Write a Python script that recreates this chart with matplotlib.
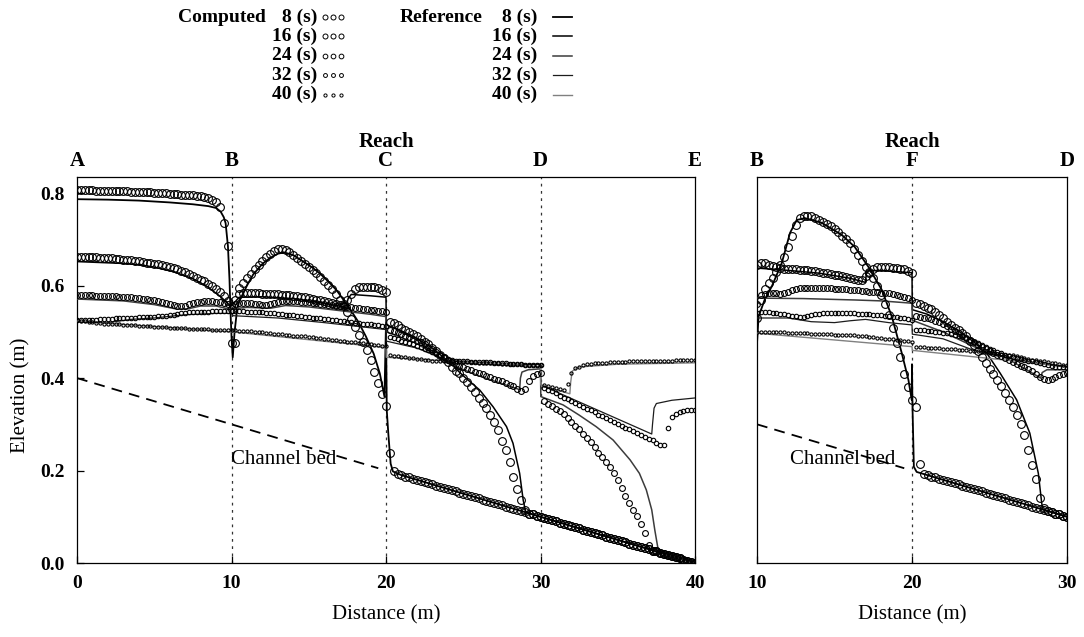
import numpy as np
import matplotlib
matplotlib.use("Agg")
import matplotlib.pyplot as plt
from matplotlib.lines import Line2D

plt.rcParams["font.family"] = ["Liberation Serif", "DejaVu Serif"]
plt.rcParams["font.size"] = 14

# ---------------------------------------------------------------- data
times = ["8", "16", "24", "32", "40"]

# computed nodes, dx = 0.25 m
dist_main = np.linspace(0, 40, 161)     # reaches A-B, B-C, C-D, D-E
dist_branch = np.linspace(10, 30, 81)   # reaches B-F, F-D

# computed water surface elevation (mm), main channel A-B-C-D-E
main_08 = [
    806, 806, 806, 806, 806, 805, 805, 805, 805, 805, 804, 804, 804, 804, 803, 803, 803, 802, 802, 802,
    801, 801, 800, 800, 799, 799, 798, 797, 797, 796, 795, 794, 793, 791, 789, 786, 781, 770, 735, 685, 476,
    476, 595, 606, 616, 626, 636, 645, 654, 662, 669, 675, 679, 680, 678, 673, 666, 660, 653, 647, 640,
    634, 627, 619, 611, 602, 593, 582, 570, 557, 542, 527, 511, 494, 478, 460, 440, 414, 390, 365, 340,
    237, 200, 192, 190, 187, 185, 182, 180, 177, 175, 172, 170, 167, 165, 162, 160, 157, 155, 152, 150,
    147, 145, 142, 140, 137, 135, 132, 130, 127, 125, 122, 120, 117, 115, 112, 110, 107, 105, 102, 100,
    97, 95, 92, 90, 87, 85, 82, 80, 77, 75, 72, 70, 67, 65, 62, 60, 57, 55, 52, 50,
    47, 45, 42, 40, 37, 35, 32, 30, 27, 25, 22, 20, 17, 15, 12, 10, 7, 5, 2, 0,
]
main_16 = [
    662, 662, 662, 661, 661, 661, 660, 660, 659, 659, 658, 657, 656, 656, 655, 654, 653, 652, 650, 649,
    647, 646, 644, 642, 640, 638, 635, 632, 629, 625, 621, 617, 613, 609, 604, 599, 593, 587, 578, 567, 550,
    570, 582, 583, 583, 583, 583, 583, 582, 582, 582, 581, 581, 580, 580, 579, 578, 577, 576, 575, 573,
    572, 570, 569, 567, 565, 563, 561, 559, 560, 568, 582, 592, 597, 598, 598, 597, 596, 594, 591, 586,
    522, 520, 515, 509, 504, 500, 496, 490, 485, 479, 473, 466, 459, 451, 443, 435, 424, 416, 410, 401,
    391, 381, 370, 358, 346, 335, 320, 304, 288, 264, 245, 219, 185, 160, 136, 114, 107, 105, 102, 100,
    97, 95, 92, 90, 87, 85, 82, 80, 77, 75, 72, 70, 67, 65, 62, 60, 57, 55, 52, 50,
    47, 45, 42, 40, 37, 35, 32, 30, 27, 25, 22, 20, 17, 15, 12, 10, 7, 5, 2, 0,
]
main_24 = [
    579, 579, 579, 579, 579, 578, 578, 578, 577, 577, 577, 576, 576, 575, 575, 574, 573, 572, 571, 570,
    568, 567, 565, 563, 561, 558, 556, 555, 557, 560, 562, 564, 565, 566, 566, 566, 565, 564, 563, 561, 558,
    560, 562, 563, 563, 562, 561, 560, 559, 558, 560, 563, 565, 566, 567, 567, 566, 566, 565, 565, 564,
    563, 562, 561, 560, 559, 558, 557, 556, 555, 554, 553, 552, 551, 550, 549, 548, 547, 546, 545, 543,
    505, 502, 499, 496, 492, 489, 485, 481, 477, 473, 468, 463, 457, 451, 445, 439, 434, 430, 426, 423,
    420, 417, 414, 411, 408, 405, 402, 399, 396, 393, 389, 386, 382, 377, 371, 376, 394, 404, 409, 412,
    350, 345, 339, 334, 328, 322, 314, 306, 297, 289, 280, 271, 261, 250, 239, 229, 218, 207, 194, 179,
    163, 146, 130, 115, 102, 84, 64, 40, 27, 25, 22, 20, 17, 15, 12, 10, 7, 5, 2, 0,
]
main_32 = [
    525, 525, 525, 525, 526, 526, 527, 527, 528, 528, 529, 529, 530, 530, 531, 531, 532, 532, 533, 533,
    533, 534, 534, 535, 536, 537, 538, 540, 541, 542, 543, 543, 544, 544, 544, 545, 545, 545, 545, 545, 545,
    545, 545, 545, 544, 544, 543, 543, 542, 541, 540, 540, 539, 538, 537, 537, 536, 535, 534, 533, 532,
    531, 530, 529, 528, 527, 526, 525, 524, 523, 522, 521, 520, 519, 518, 517, 516, 515, 514, 513, 512,
    488, 486, 484, 481, 478, 476, 473, 470, 467, 464, 461, 457, 453, 449, 445, 441, 439, 437, 436, 436,
    436, 435, 435, 435, 434, 434, 434, 433, 433, 432, 432, 431, 431, 430, 430, 429, 429, 428, 428, 428,
    379, 375, 371, 367, 362, 358, 354, 350, 346, 342, 338, 334, 330, 326, 321, 317, 313, 309, 305, 301,
    297, 293, 289, 285, 281, 277, 273, 269, 265, 260, 255, 256, 292, 316, 323, 327, 328, 330, 331, 331,
]
main_40 = [
    525, 524, 523, 522, 521, 520, 519, 518, 517, 517, 516, 516, 515, 515, 514, 514, 513, 513, 512, 512,
    511, 511, 510, 510, 509, 509, 509, 508, 508, 507, 507, 507, 506, 506, 506, 505, 505, 504, 504, 503, 503,
    503, 502, 502, 501, 501, 500, 499, 499, 498, 497, 496, 496, 495, 494, 493, 492, 491, 490, 490, 489,
    488, 487, 486, 485, 484, 483, 482, 481, 480, 479, 478, 477, 476, 475, 474, 473, 472, 471, 470, 469,
    449, 448, 447, 446, 445, 444, 443, 442, 441, 440, 439, 438, 438, 437, 437, 436, 436, 435, 435, 435,
    434, 434, 434, 433, 433, 433, 432, 432, 432, 431, 431, 431, 430, 430, 430, 429, 429, 429, 428, 428,
    384, 382, 380, 378, 376, 374, 388, 410, 421, 425, 428, 430, 431, 432, 432, 433, 433, 434, 434, 435,
    435, 435, 436, 436, 436, 437, 437, 437, 437, 438, 438, 438, 438, 438, 439, 439, 439, 439, 439, 439,
]

# computed water surface elevation (mm), branch B-F-D
branch_08 = [
    530, 568, 592, 605, 617, 630, 645, 662, 684, 708, 731, 746, 751, 751, 750, 746, 742, 738, 733, 728,
    722, 715, 708, 701, 692, 680, 667, 653, 640, 628, 616, 600, 580, 560, 537, 508, 476, 446, 408, 380, 352,
    338, 215, 193, 190, 187, 185, 182, 180, 177, 175, 172, 170, 167, 165, 162, 160, 157, 155, 152, 150,
    147, 145, 142, 140, 137, 135, 132, 130, 127, 125, 122, 120, 117, 115, 112, 110, 107, 105, 102, 100,
]
branch_16 = [
    645, 649, 648, 645, 642, 640, 638, 637, 636, 635, 635, 634, 634, 633, 632, 631, 629, 628, 627, 626,
    624, 623, 621, 619, 617, 615, 613, 612, 620, 630, 637, 640, 641, 641, 640, 639, 638, 637, 635, 632, 628,
    562, 560, 556, 552, 549, 544, 537, 530, 522, 515, 508, 503, 497, 490, 481, 471, 459, 445, 432, 420,
    408, 396, 382, 368, 353, 338, 320, 300, 276, 245, 212, 182, 140, 118, 112, 110, 107, 105, 102, 100,
]
branch_24 = [
    560, 580, 582, 583, 584, 583, 582, 584, 587, 590, 592, 594, 595, 595, 595, 595, 595, 595, 594, 594,
    593, 593, 592, 592, 591, 591, 590, 589, 588, 587, 587, 586, 585, 584, 583, 582, 580, 578, 576, 573, 569,
    535, 533, 531, 529, 527, 524, 521, 516, 512, 507, 502, 497, 492, 487, 482, 477, 472, 467, 463, 459,
    455, 451, 447, 443, 439, 435, 431, 427, 423, 419, 415, 409, 403, 398, 396, 399, 403, 407, 409, 410,
]
branch_32 = [
    540, 544, 543, 542, 541, 540, 539, 538, 536, 535, 534, 533, 533, 534, 536, 538, 539, 540, 540, 540,
    540, 540, 540, 540, 540, 540, 539, 539, 538, 538, 537, 536, 536, 535, 534, 533, 532, 531, 529, 527, 525,
    505, 504, 503, 502, 501, 500, 499, 498, 497, 496, 494, 492, 490, 487, 483, 479, 475, 471, 467, 463,
    460, 457, 454, 451, 448, 446, 444, 442, 440, 438, 436, 434, 432, 430, 428, 426, 425, 424, 423, 422,
]
branch_40 = [
    500, 500, 500, 500, 499, 499, 499, 499, 498, 498, 498, 497, 497, 497, 496, 496, 496, 495, 495, 495,
    494, 494, 494, 493, 493, 493, 492, 491, 490, 489, 488, 487, 486, 485, 484, 484, 483, 482, 481, 480, 479,
    468, 467, 467, 466, 466, 465, 465, 464, 463, 463, 462, 461, 461, 460, 459, 458, 458, 457, 456, 455,
    454, 453, 452, 451, 450, 449, 447, 446, 444, 442, 440, 439, 437, 436, 434, 433, 432, 431, 429, 428,
]

# reference solution (m), main channel
ref_main_08_x = [0, 2, 4, 6, 7.5, 8.5, 9, 9.3, 9.5, 9.62, 9.77, 9.87, 9.94, 10.0, 10.08, 10.2, 10.35, 10.5,
                 11, 11.4, 12, 12.5, 13, 13.4, 14, 14.6, 15.2, 15.7, 16.3, 16.8, 17.3, 17.7, 18.2, 18.7,
                 19.2, 19.6, 19.9, 20.0, 20.05, 20.15, 20.3, 20.45, 21, 40]
ref_main_08_y = [0.787, 0.786, 0.784, 0.780, 0.776, 0.772, 0.768, 0.760, 0.748, 0.735, 0.685, 0.613, 0.540,
                 0.490, 0.445, 0.500, 0.545, 0.566, 0.600, 0.624, 0.647, 0.660, 0.669, 0.672, 0.666, 0.653,
                 0.640, 0.627, 0.608, 0.590, 0.567, 0.548, 0.522, 0.490, 0.453, 0.410, 0.360, 0.520, 0.330,
                 0.280, 0.215, 0.198, 0.190, 0.0]
ref_main_16_x = [0, 3, 4.1, 5, 6.27, 7.5, 8.43, 9.3, 9.94, 10.1, 10.5, 12, 14, 16, 17.4, 17.55, 17.75, 19,
                 20, 20.02, 21, 22, 23, 24, 25, 26.07, 26.93, 27.8, 28.22, 28.65, 28.88, 29.04, 29.1, 40]
ref_main_16_y = [0.652, 0.648, 0.645, 0.640, 0.630, 0.615, 0.598, 0.576, 0.556, 0.560, 0.575, 0.576, 0.572,
                 0.562, 0.553, 0.572, 0.581, 0.578, 0.575, 0.515, 0.502, 0.486, 0.465, 0.437, 0.405, 0.374,
                 0.338, 0.295, 0.259, 0.194, 0.136, 0.111, 0.109, 0.0]
ref_main_24_x = [0, 3, 5, 6.5, 7.2, 8, 9, 10, 10.1, 11, 12.5, 13.5, 15, 17, 19, 20, 20.02, 22, 24, 26,
                 27.5, 28.65, 28.7, 28.8, 29.2, 30, 30.02, 31.46, 32.5, 33.6, 34.7, 35.8, 36.4, 36.85,
                 37.2, 37.4, 37.6, 38, 40]
ref_main_24_y = [0.571, 0.567, 0.559, 0.549, 0.550, 0.556, 0.556, 0.548, 0.550, 0.553, 0.551, 0.557, 0.554,
                 0.546, 0.538, 0.533, 0.500, 0.475, 0.432, 0.405, 0.388, 0.375, 0.400, 0.413, 0.418, 0.420,
                 0.360, 0.342, 0.320, 0.295, 0.266, 0.223, 0.194, 0.158, 0.115, 0.071, 0.032, 0.020, 0.0]
ref_main_32_x = [0, 2, 3.5, 5, 7, 9, 10, 10.1, 13, 16, 20, 20.02, 22, 24, 26, 28, 30, 30.02, 37.2, 37.25,
                 37.35, 37.5, 38.5, 40]
ref_main_32_y = [0.522, 0.520, 0.527, 0.530, 0.537, 0.540, 0.540, 0.535, 0.530, 0.520, 0.505, 0.480, 0.465,
                 0.438, 0.430, 0.428, 0.430, 0.385, 0.279, 0.300, 0.335, 0.345, 0.352, 0.357]
ref_main_40_x = [0, 10, 10.02, 20, 20.02, 30, 30.02, 31.9, 31.95, 32.05, 32.5, 35, 40]
ref_main_40_y = [0.523, 0.500, 0.500, 0.466, 0.445, 0.425, 0.385, 0.366, 0.390, 0.415, 0.424, 0.430, 0.433]

# reference solution (m), branch
ref_branch_08_x = [10.0, 10.1, 10.5, 10.95, 11.6, 12.13, 12.56, 13.1, 14.17, 15.46, 16.3, 17.18, 18.05,
                   18.7, 19.34, 19.77, 19.98, 20.0, 20.03, 20.12, 20.3, 30]
ref_branch_08_y = [0.475, 0.533, 0.570, 0.598, 0.649, 0.714, 0.742, 0.746, 0.736, 0.710, 0.684, 0.641,
                   0.591, 0.533, 0.454, 0.396, 0.353, 0.430, 0.340, 0.208, 0.197, 0.100]
ref_branch_16_x = [10.0, 12, 14, 16, 17.0, 17.05, 17.2, 18, 19, 20, 20.02, 21, 22, 23, 24, 24.8, 25.68,
                   26.75, 27.6, 28.15, 28.37, 28.45, 30]
ref_branch_16_y = [0.638, 0.633, 0.627, 0.616, 0.607, 0.625, 0.632, 0.633, 0.630, 0.628, 0.548, 0.538,
                   0.522, 0.502, 0.478, 0.455, 0.411, 0.353, 0.281, 0.194, 0.129, 0.116, 0.100]
ref_branch_24_x = [10.0, 13, 16.3, 18, 20, 20.02, 22, 24, 26, 27.8, 28.3, 28.4, 28.7, 30]
ref_branch_24_y = [0.573, 0.572, 0.569, 0.567, 0.562, 0.525, 0.500, 0.468, 0.445, 0.410, 0.400, 0.412,
                   0.418, 0.418]
ref_branch_32_x = [10.0, 12, 13.5, 15, 16, 17, 18.5, 20, 20.02, 22, 24, 26, 28, 30]
ref_branch_32_y = [0.530, 0.530, 0.522, 0.520, 0.524, 0.527, 0.520, 0.515, 0.495, 0.485, 0.460, 0.445,
                   0.432, 0.424]
ref_branch_40_x = [10.0, 20, 20.02, 30]
ref_branch_40_y = [0.497, 0.468, 0.460, 0.425]

# channel bed (drawn dashed where it is under water)
bed_main_x = [0, 19.5]
bed_main_y = [0.4, 0.205]
bed_branch_x = [10, 19.5]
bed_branch_y = [0.3, 0.205]

main_reach_pos = [0, 10, 20, 30, 40]
main_reach_names = ["A", "B", "C", "D", "E"]
branch_reach_pos = [10, 20, 30]
branch_reach_names = ["B", "F", "D"]

# ---------------------------------------------------------------- styles
MARKER_SIZE = [5.6, 5.6, 4.2, 3.2, 2.3]
REF_COLOR = ["#000000", "#000000", "#3c3c3c", "#1c1c1c", "#808080"]
REF_WIDTH = [1.3, 1.1, 1.1, 0.9, 1.0]

comp_main = [main_08, main_16, main_24, main_32, main_40]
comp_branch = [branch_08, branch_16, branch_24, branch_32, branch_40]
ref_main = [(ref_main_08_x, ref_main_08_y), (ref_main_16_x, ref_main_16_y), (ref_main_24_x, ref_main_24_y),
            (ref_main_32_x, ref_main_32_y), (ref_main_40_x, ref_main_40_y)]
ref_branch = [(ref_branch_08_x, ref_branch_08_y), (ref_branch_16_x, ref_branch_16_y),
              (ref_branch_24_x, ref_branch_24_y), (ref_branch_32_x, ref_branch_32_y),
              (ref_branch_40_x, ref_branch_40_y)]

W, H = 1084, 637
fig = plt.figure(figsize=(W / 100, H / 100), dpi=100)
ax1 = fig.add_axes([77 / W, 1 - 563 / H, 618 / W, 386 / H])
ax2 = fig.add_axes([757 / W, 1 - 563 / H, 310 / W, 386 / H])


def draw_panel(ax, dist, comp, refs, bed_x, bed_y, text_x):
    for i in range(len(times)):
        rx, ry = refs[i]
        ax.plot(rx, ry, color=REF_COLOR[i], lw=REF_WIDTH[i], zorder=3)
    for i in range(len(times)):
        elev = np.asarray(comp[i], dtype=float) / 1000.0
        assert len(elev) == len(dist)
        ax.plot(dist, elev, ls="none", marker="o", ms=MARKER_SIZE[i], mfc="none",
                mec="black", mew=0.8, zorder=4)
    ax.plot(bed_x, bed_y, color="black", lw=1.3, dashes=(6, 4), zorder=2)
    ax.text(text_x, 0.223, "Channel bed", ha="center", va="center", fontsize=15)


def style_axis(ax, xlim, xticks, reach_pos, reach_names, junctions):
    ax.set_xlim(*xlim)
    ax.set_ylim(0, 0.835)
    ax.set_xticks(xticks, labels=[f"{t:g}" for t in xticks], fontweight="bold")
    ax.tick_params(direction="in", length=5, width=0.9, labelsize=14, pad=9)
    for s in ax.spines.values():
        s.set_linewidth(0.9)
    for xj in junctions:
        ax.axvline(xj, color="#333333", lw=0.9, dashes=(2.2, 3.6), zorder=1)
    ax.set_xlabel("Distance (m)", fontsize=15, labelpad=9)
    sec = ax.secondary_xaxis("top")
    sec.set_xticks(reach_pos, labels=reach_names, fontweight="bold")
    sec.tick_params(length=0, labelsize=15, pad=4)
    sec.spines["top"].set_visible(False)
    sec.set_xlabel("Reach", fontsize=15, fontweight="bold", labelpad=3)


draw_panel(ax1, dist_main, comp_main, ref_main, bed_main_x, bed_main_y, 13.4)
draw_panel(ax2, dist_branch, comp_branch, ref_branch, bed_branch_x, bed_branch_y, 15.55)

style_axis(ax1, (0, 40), [0, 10, 20, 30, 40], main_reach_pos, main_reach_names, [10, 20, 30])
style_axis(ax2, (10, 30), [10, 20, 30], branch_reach_pos, branch_reach_names, [20])

ax1.set_yticks([0, 0.2, 0.4, 0.6, 0.8], labels=["0.0", "0.2", "0.4", "0.6", "0.8"], fontweight="bold")
ax1.set_ylabel("Elevation (m)", fontsize=15)
ax1.yaxis.set_label_coords(-0.076, 0.435)
ax2.set_yticks([])

# ---------------------------------------------------------------- legend (two blocks at the top)
row0, row_step = 17, 19.4
fig.text(178 / W, 1 - row0 / H, "Computed", ha="left", va="center", fontsize=14, fontweight="bold")
fig.text(400 / W, 1 - row0 / H, "Reference", ha="left", va="center", fontsize=14, fontweight="bold")
leg_marker = [3.6, 3.6, 3.4, 2.8, 2.3]
for i, t in enumerate(times):
    yf = 1 - (row0 + row_step * i) / H
    fig.text(317 / W, yf, f"{t} (s)", ha="right", va="center", fontsize=14, fontweight="bold")
    fig.text(537 / W, yf, f"{t} (s)", ha="right", va="center", fontsize=14, fontweight="bold")
    fig.add_artist(Line2D([325 / W, 333 / W, 341 / W], [yf] * 3, transform=fig.transFigure, ls="none",
                          marker="o", ms=leg_marker[i], mfc="none", mec="black", mew=0.7))
    fig.add_artist(Line2D([553 / W, 572 / W], [yf, yf], transform=fig.transFigure,
                          color=REF_COLOR[i], lw=REF_WIDTH[i]))

fig.savefig("out.png", dpi=100)
